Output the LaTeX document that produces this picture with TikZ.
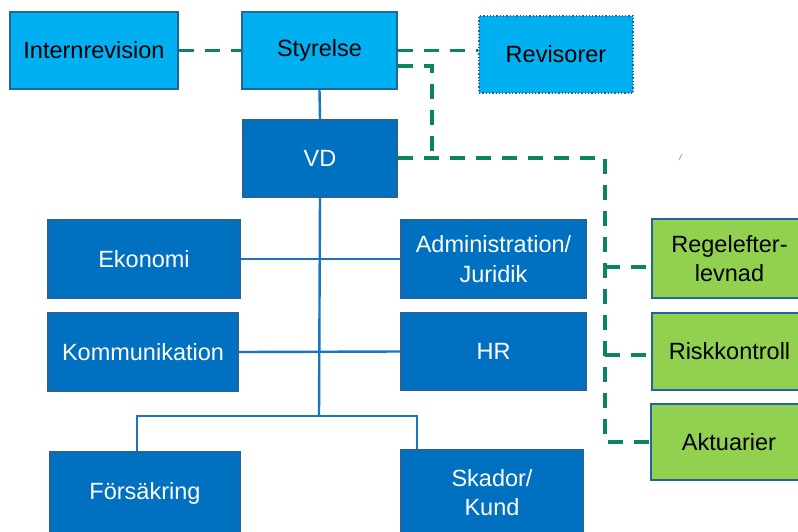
\documentclass[tikz,border=0pt]{standalone}
\usepackage{fontspec}
\setmainfont{Liberation Sans}
\definecolor{lightfill}{HTML}{00B0F0}
\definecolor{darkfill}{HTML}{0070C0}
\definecolor{greenfill}{HTML}{92D050}
\definecolor{edgeblue}{HTML}{22649E}
\definecolor{treeblue}{HTML}{1A75BE}
\definecolor{dashgreen}{HTML}{0A8462}
\begin{document}
\begin{tikzpicture}[x=1pt,y=-1pt,
  box/.style={draw=edgeblue, line width=1.3pt, inner sep=0pt, align=center,
    font=\fontsize{23.5}{29.5}\selectfont},
  lightbox/.style={box, fill=lightfill, text=black},
  darkbox/.style={box, fill=darkfill, text=white},
  greenbox/.style={box, fill=greenfill, text=black},
  tree/.style={draw=treeblue, line width=2.4pt},
  gdash/.style={draw=dashgreen, line width=3.6pt, dash pattern=on 15pt off 11pt}]
\clip (0,0) rectangle (798,531);
\fill[white] (0,0) rectangle (798,531);
% top row
\node[lightbox, minimum width=168pt, minimum height=77pt] (intern) at (94,50.5) {Internrevision};
\node[lightbox, minimum width=155pt, minimum height=77pt] (styr) at (319.5,50.5) {Styrelse};
\node[lightbox, draw=edgeblue, dotted, line width=1.2pt, minimum width=154pt, minimum height=77pt] (revis) at (556,54.5) {Revisorer};
% VD
\node[darkbox, minimum width=154pt, minimum height=77pt] (vd) at (320,158.5) {VD};
% staff
\node[darkbox, minimum width=192pt, minimum height=78pt] (eko) at (144,259) {Ekonomi};
\node[darkbox, minimum width=185pt, minimum height=78pt] (adm) at (493.5,259) {Administration/\\Juridik};
\node[darkbox, minimum width=190pt, minimum height=78pt] (kom) at (143,352) {Kommunikation};
\node[darkbox, minimum width=185pt, minimum height=77pt] (hr) at (493.5,351.5) {HR};
% lines of business
\node[darkbox, minimum width=190pt, minimum height=83pt] (fors) at (145,493.5) {Försäkring};
\node[darkbox, minimum width=182pt, minimum height=85pt] (skad) at (492,492.5) {Skador/\\Kund};
% control functions
\node[greenbox, minimum width=155pt, minimum height=79pt] (regel) at (729.5,258.5) {Regelefter-\\levnad};
\node[greenbox, minimum width=155pt, minimum height=77pt] (risk) at (729.5,351.5) {Riskkontroll};
\node[greenbox, minimum width=156pt, minimum height=76pt] (akt) at (729,442) {Aktuarier};
% tree
\coordinate (bus) at (319,416);
\coordinate (bl) at (137,416);
\coordinate (br) at (417,416);
\draw[tree] (styr.south) -- (vd.north);
\draw[tree] (vd.south) -- (bus);
\draw[tree] (eko.east) -- (adm.west);
\draw[tree] (kom.east) -- (hr.west);
\draw[tree] (fors.north -| bl) -- (bl) -- (br) -- (skad.north -| br);
% dashed green
\coordinate (s2) at ([yshift=-15.5pt]styr.east);
\coordinate (j1) at (432,158);
\coordinate (j2) at (605,158);
\draw[gdash] (intern.east) -- (styr.west);
\draw[gdash] (styr.east) -- (styr.east -| revis.west);
\draw[gdash] (s2) -| (j1);
\draw[gdash] (vd.east |- j2) -- (j2) |- ([yshift=0pt]akt.west);
\draw[gdash] (j2 |- 0,267) -- ([yshift=-8.5pt]regel.west);
\draw[gdash] (j2 |- 0,355) -- ([yshift=-3.5pt]risk.west);
% small stray tick
\coordinate (t1) at (679,160);
\coordinate (t2) at (682,154);
\draw[treeblue!60, line width=0.8pt] (t1) -- (t2);
\end{tikzpicture}
\end{document}
